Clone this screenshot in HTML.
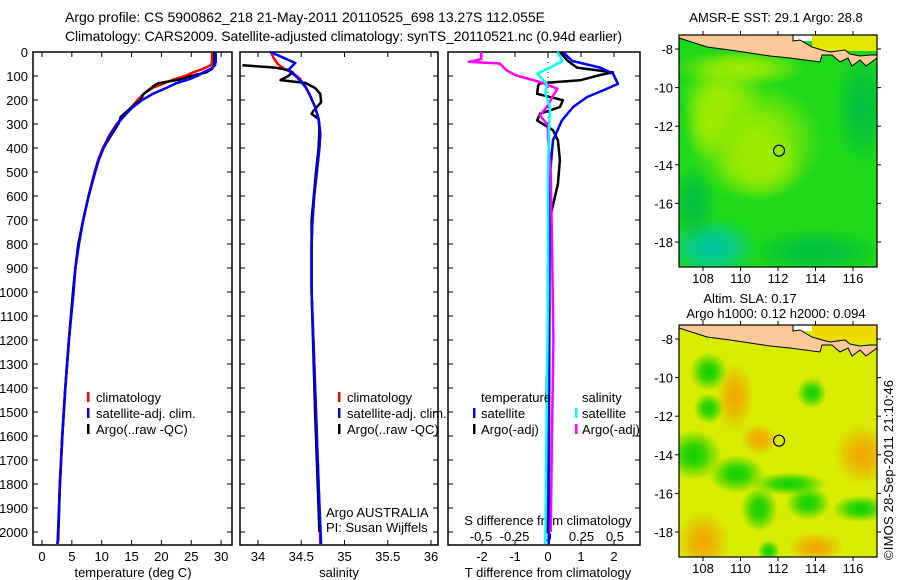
<!DOCTYPE html>
<html><head><meta charset="utf-8">
<style>
html,body{margin:0;padding:0;background:#fff;}
svg{display:block;font-family:"Liberation Sans",sans-serif;}
text{font-size:13px;fill:#000;}
</style></head>
<body>
<svg id="fig" width="900" height="580" viewBox="0 0 900 580" xmlns="http://www.w3.org/2000/svg">
<text x="65" y="22" textLength="480" style="font-size:14px">Argo profile: CS 5900862_218 21-May-2011 20110525_698 13.27S 112.055E</text>
<text x="65" y="41" textLength="557" style="font-size:14px">Climatology: CARS2009. Satellite-adjusted climatology: synTS_20110521.nc (0.94d earlier)</text>
<text transform="translate(893,470) rotate(-90)" text-anchor="middle" textLength="180">©IMOS 28-Sep-2011 21:10:46</text>
<g id="plots"></g>
</svg>
<script>
// ---------- data ----------
const depthTicks = [0,100,200,300,400,500,600,700,800,900,1000,1100,1200,1300,1400,1500,1600,1700,1800,1900,2000];
const tempTicks = [0,5,10,15,20,25,30];
const salTicks = [34,34.5,35,35.5,36];
const tDiffTicks = [-2,-1,0,1,2];
const sDiffTicks = [-0.5,-0.25,0,0.25,0.5];
const sDiffTickLabels = ["-0.5","-0.25","0","0.25","0.5"];

const climTDepth = [0,40,55,70,85,100,115,130,150,175,200,230,260,300,350,400,450,500,600,700,800,900,1000,1200,1400,1600,1800,2000,2050];
const climT = [28.5,28.5,28.3,27,25.3,24,22,20.5,18.5,17,16,15,14,12.5,11.2,10.2,9.4,8.8,7.8,6.9,6.1,5.6,5.2,4.5,3.9,3.4,3.0,2.7,2.6];
const satT = [29.1,29.1,29,28.3,27,26,24.5,22.5,20.8,18.5,16.8,15.2,14,12.6,11.3,10.3,9.5,8.9,7.8,6.9,6.2,5.6,5.3,4.5,3.9,3.4,3.0,2.7,2.6];
const argoTDepth = [0,40,55,70,85,100,115,130,140,175,200,230,270,300,350,400,450,500,600,700,800,900,1000,1200,1400,1600,1800,2040];
const argoT = [28.8,28.9,28.8,28.5,27.5,25,23,19.5,18.8,17,16.5,15,13.2,12.8,11.5,10.3,9.5,8.9,7.8,6.9,6.1,5.6,5.2,4.5,3.9,3.4,3.0,2.7];

const climSDepth = [0,25,50,70,87,110,146,180,229,280,337,400,500,600,700,800,1000,1200,1500,1800,2050];
const climS = [34.15,34.18,34.23,34.3,34.4,34.48,34.55,34.6,34.66,34.7,34.72,34.71,34.68,34.65,34.63,34.62,34.62,34.64,34.67,34.7,34.72];
const satSDepth = [0,20,46,75,104,146,180,229,280,337,400,500,600,700,800,1000,1200,1500,1800,2050];
const satS = [34.14,34.27,34.43,34.35,34.45,34.55,34.6,34.66,34.7,34.72,34.71,34.68,34.65,34.63,34.62,34.62,34.64,34.67,34.7,34.73];
const argoSDepth = [55,60,65,75,85,100,117,129,150,175,210,245,258,279,320,400,500,700,1000,1500,2000];
const argoS = [33.82,34.0,34.2,34.35,34.4,34.35,34.26,34.55,34.66,34.72,34.73,34.64,34.62,34.7,34.71,34.7,34.67,34.62,34.62,34.66,34.71];

const dTsatDepth = [0,37,65,90,133,160,188,229,285,368,510,800,1200,1600,2050];
const dTsat = [0.45,0.73,1.58,1.97,2.12,1.67,1.18,0.76,0.42,0.15,0.06,0.05,0.04,0.03,0.02];
const dTargoDepth = [0,37,65,85,95,118,130,140,174,201,229,257,285,326,368,450,550,700,900,1200,1450,1500,1700,2000];
const dTargo = [0.36,0.6,0.88,1.97,1.6,0.97,-0.24,-0.3,-0.33,0.45,0.36,-0.24,-0.33,0.15,0.3,0.36,0.3,0.05,0.0,0.0,-0.05,-0.02,0,-0.02];
const dSargoDepth = [0,30,41,48,76,97,125,153,180,222,264,306,360,500,800,1200,1600,2000];
const dSargo = [-0.5,-0.5,-0.59,-0.36,-0.31,-0.24,-0.06,0.07,0.04,0,-0.06,0,0,0.02,0.03,0.04,0.03,0.02];
const dSsatDepth = [0,37,65,90,132,174,229,300,500,1000,1500,2050];
const dSsat = [0.07,0.11,0.015,-0.08,-0.01,-0.02,0.015,0.01,0.0,0,-0.01,-0.02];

const lonTicks = [108,110,112,114,116];
const latTicks = [-8,-10,-12,-14,-16,-18];
const argoLon = 112.055, argoLat = -13.27;

// ---------- helpers ----------
const NS = "http://www.w3.org/2000/svg";
const root = document.getElementById('plots');
function mk(tag, attrs, parent){ const e=document.createElementNS(NS,tag); for(const k in attrs) e.setAttribute(k,attrs[k]); (parent||root).appendChild(e); return e; }
const TOP=52, BOT=545;
const yD = d => TOP + d*0.24;

function frame(x0,x1,name){
  const g = mk('g',{});
  
  
  mk('rect',{x:x0,y:TOP,width:x1-x0,height:BOT-TOP,fill:'none',stroke:'#000','stroke-width':1.5},g);
  depthTicks.forEach(d=>{
    mk('line',{x1:x0,x2:x0+5,y1:yD(d),y2:yD(d),stroke:'#000'},g);
    mk('line',{x1:x1,x2:x1-5,y1:yD(d),y2:yD(d),stroke:'#000'},g);
  });
  return g;
}
function xticks(g, ticks, fx, labels, ly, withLabels){
  ticks.forEach((t,i)=>{
    const x=fx(t);
    mk('line',{x1:x,x2:x,y1:TOP,y2:TOP+5,stroke:'#000'},g);
    mk('line',{x1:x,x2:x,y1:BOT,y2:BOT-5,stroke:'#000'},g);
    if(withLabels){ const tx=mk('text',{x:x,y:ly,'text-anchor':'middle'},g); tx.textContent=labels[i];
      
       }
  });
}
function line(g, depths, vals, fx, color, name, w){
  const pts = depths.map((d,i)=>fx(vals[i]).toFixed(1)+','+yD(d).toFixed(1)).join(' ');
  const p = mk('polyline',{points:pts,fill:'none',stroke:color,'stroke-width':w||2.5,'stroke-linejoin':'round'},g);
  
  
}
function txt(g,x,y,s,name,anchor){
  const t=mk('text',{x:x,y:y,'text-anchor':anchor||'start'},g); t.textContent=s;
  
  
  return t;
}
function legendMark(g,x,y,color){ mk('rect',{x:x,y:y-10,width:2.5,height:10,fill:color},g); }

// ---------- panel 1: temperature ----------
const fT = v => 42 + v*5.97;
const g1 = frame(33,232,'temperature-panel');
depthTicks.forEach(d=>{ txt(g1,28,yD(d)+5,String(d),'y-tick-label','end'); });
xticks(g1,tempTicks,fT,tempTicks.map(String),561,true);
txt(g1,133,577,'temperature (deg C)','x-axis-title','middle');
line(g1,climTDepth,climT,fT,'#ff0000','climatology-temp-line');
line(g1,argoTDepth,argoT,fT,'#000000','argo-temp-line');
line(g1,climTDepth,satT,fT,'#0000ff','satellite-temp-line');
legendMark(g1,87,402,'#ff0000'); txt(g1,96,402,'climatology','legend-entry');
legendMark(g1,87,418,'#0000ff'); txt(g1,96,418,'satellite-adj. clim.','legend-entry');
legendMark(g1,87,434,'#000000'); txt(g1,96,434,'Argo(..raw -QC)','legend-entry');

// ---------- panel 2: salinity ----------
const fS = v => 258 + (v-34)*86.5;
const g2 = frame(240,438,'salinity-panel');
xticks(g2,salTicks,fS,salTicks.map(String),561,true);
txt(g2,339,577,'salinity','x-axis-title','middle');
line(g2,climSDepth,climS,fS,'#ff0000','climatology-sal-line');
line(g2,argoSDepth,argoS,fS,'#000000','argo-sal-line');
line(g2,satSDepth,satS,fS,'#0000ff','satellite-sal-line');
legendMark(g2,338,402,'#ff0000'); txt(g2,347,402,'climatology','legend-entry');
legendMark(g2,338,418,'#0000ff'); txt(g2,347,418,'satellite-adj. clim.','legend-entry');
legendMark(g2,338,434,'#000000'); txt(g2,347,434,'Argo(..raw -QC)','legend-entry');
txt(g2,326,517,'Argo AUSTRALIA','argo-agency-label');
txt(g2,326,532,'PI: Susan Wijffels','pi-label');

// ---------- panel 3: differences ----------
const fDT = v => 548 + v*33;
const fDS = v => 548 + v*134;
const g3 = frame(448,640,'difference-panel');
mk('line',{x1:548,x2:548,y1:TOP,y2:BOT,stroke:'#000','stroke-dasharray':'1,4'},g3);
xticks(g3,tDiffTicks,fDT,tDiffTicks.map(String),561,true);
sDiffTicks.forEach((t,i)=>{ txt(g3,fDS(t),541,sDiffTickLabels[i],'s-tick-label','middle'); });
txt(g3,548,525,'S difference from climatology','s-axis-title','middle');
txt(g3,548,577,'T difference from climatology','t-axis-title','middle');
line(g3,dTargoDepth,dTargo,fDT,'#000000','argo-temp-diff-line');
line(g3,dTsatDepth,dTsat,fDT,'#0000ff','satellite-temp-diff-line');
line(g3,dSargoDepth,dSargo,fDS,'#ff00ff','argo-sal-diff-line');
line(g3,dSsatDepth,dSsat,fDS,'#00ffff','satellite-sal-diff-line');
txt(g3,481,402,'temperature','legend-heading');
txt(g3,582,402,'salinity','legend-heading');
legendMark(g3,473,418,'#0000ff'); txt(g3,481,418,'satellite','legend-entry');
legendMark(g3,473,434,'#000000'); txt(g3,481,434,'Argo(-adj)','legend-entry');
legendMark(g3,575,418,'#00ffff'); txt(g3,582,418,'satellite','legend-entry');
legendMark(g3,575,434,'#ff00ff'); txt(g3,582,434,'Argo(-adj)','legend-entry');

// ---------- maps ----------
const defs = mk('defs',{});
function rg(id,color){ const r=mk('radialGradient',{id:id},defs);
  mk('stop',{offset:'0','stop-color':color,'stop-opacity':1},r);
  mk('stop',{offset:'0.4','stop-color':color,'stop-opacity':0.8},r);
  mk('stop',{offset:'1','stop-color':color,'stop-opacity':0},r); }
rg('gYG','#a0ec00'); rg('gTeal','#00c8a0'); rg('gDG','#00c040'); rg('gOr','#f0a800'); rg('gGr','#10d000'); rg('gY','#f0e000');

function map(y0, name, base, topRight, blobs){
  const x0=679,x1=877,y1=y0+232;
  const fx = lon => 703 + (lon-108)*18.75;
  const fy = lat => (y0+14) + (-8-lat)*19.3;
  const g = mk('g',{});  
  const cid='clip'+y0;
  const cp=mk('clipPath',{id:cid},defs); mk('rect',{x:x0,y:y0,width:x1-x0,height:y1-y0},cp);
  const inner=mk('g',{'clip-path':'url(#'+cid+')'},g);
  mk('rect',{x:x0,y:y0,width:x1-x0,height:y1-y0,fill:base},inner);
  blobs.forEach(b=>mk('ellipse',{cx:fx(b[0]),cy:fy(b[1]),rx:b[2]*18.75,ry:b[3]*19.3,fill:'url(#'+b[4]+')'},inner));
  const o=y0-35;
  mk('rect',{x:812,y:y0,width:65,height:16,fill:topRight},inner);
  mk('rect',{x:793,y:y0,width:19,height:6,fill:'#ffffff'},inner);
  const land = mk('polygon',{points:[[679,35],[679,38],[707,47],[730,50],[750,53],[770,56],[790,58],[805,60],[820,62],[822,55],[832,55],[840,62],[848,58],[852,66],[860,60],[866,66],[877,58],[877,55],[870,55],[860,56],[850,54],[845,50],[830,52],[822,50],[812,47],[800,40],[793,41],[793,35]].map(p=>p[0]+','+(p[1]+o)).join(' '),fill:'#fdc998',stroke:'#000','stroke-width':1},inner);
   
  mk('rect',{x:x0,y:y0,width:x1-x0,height:y1-y0,fill:'none',stroke:'#000','stroke-width':1.2},g);
  lonTicks.forEach(l=>{ const x=fx(l);
    mk('line',{x1:x,x2:x,y1:y1,y2:y1+4,stroke:'#000'},g); mk('line',{x1:x,x2:x,y1:y0,y2:y0-4,stroke:'#000'},g);
    txt(g,x,y1+16,String(l),'lon-tick-label','middle'); });
  latTicks.forEach(l=>{ const y=fy(l);
    mk('line',{x1:x0,x2:x0-4,y1:y,y2:y,stroke:'#000'},g); mk('line',{x1:x1,x2:x1+4,y1:y,y2:y,stroke:'#000'},g);
    txt(g,673,y+5,String(l),'lat-tick-label','end'); });
  const c=mk('circle',{cx:fx(argoLon),cy:fy(argoLat),r:5.5,fill:'none',stroke:'#000','stroke-width':1.2},g);
   
  return g;
}
const m1 = map(35,'sst-map','#1ed81a','#e0e800',[
  [110.8,-12.8,3.6,3.2,'gYG'],[111,-14,2.4,1.8,'gYG'],[109,-10.5,2.2,1.8,'gYG'],[110,-9,3.5,1,'gYG'],[108.4,-11.8,1.5,2,'gYG'],
  [108.5,-18.3,2.5,1.6,'gTeal'],[114,-18.5,3.5,1.2,'gDG'],[116.5,-11,1.5,3,'gDG'],[107.5,-16,1.2,2,'gDG']]);
txt(m1,776,22,'AMSR-E SST: 29.1 Argo: 28.8','sst-map-title','middle');
const m2 = map(325,'sla-map','#d8ec00','#f0d800',[
  [108,-18.5,1.4,1.6,'gOr'],[109.7,-11,1,1.8,'gOr'],[116.5,-14,1.5,1.6,'gOr'],[111,-13.2,1,0.8,'gOr'],[114,-18.8,1.5,0.8,'gOr'],
  [107.5,-14,1.5,1.3,'gGr'],[109.8,-15,1.5,1,'gGr'],[111,-16.8,1,1.2,'gGr'],[116.4,-16.8,1.5,0.7,'gGr'],[113.6,-16.5,1.2,0.9,'gGr'],
  [108.3,-9.7,1,1,'gGr'],[108.3,-11.6,0.8,0.8,'gGr'],[112.6,-15.5,2,0.6,'gGr'],[111.5,-19,0.6,0.6,'gGr'],[113.8,-10.8,0.8,0.8,'gGr']]);
txt(m2,750,303,'Altim. SLA: 0.17','sla-map-title','middle');
txt(m2,776,318,'Argo h1000: 0.12 h2000: 0.094','sla-map-subtitle','middle');
</script>
</body></html>
